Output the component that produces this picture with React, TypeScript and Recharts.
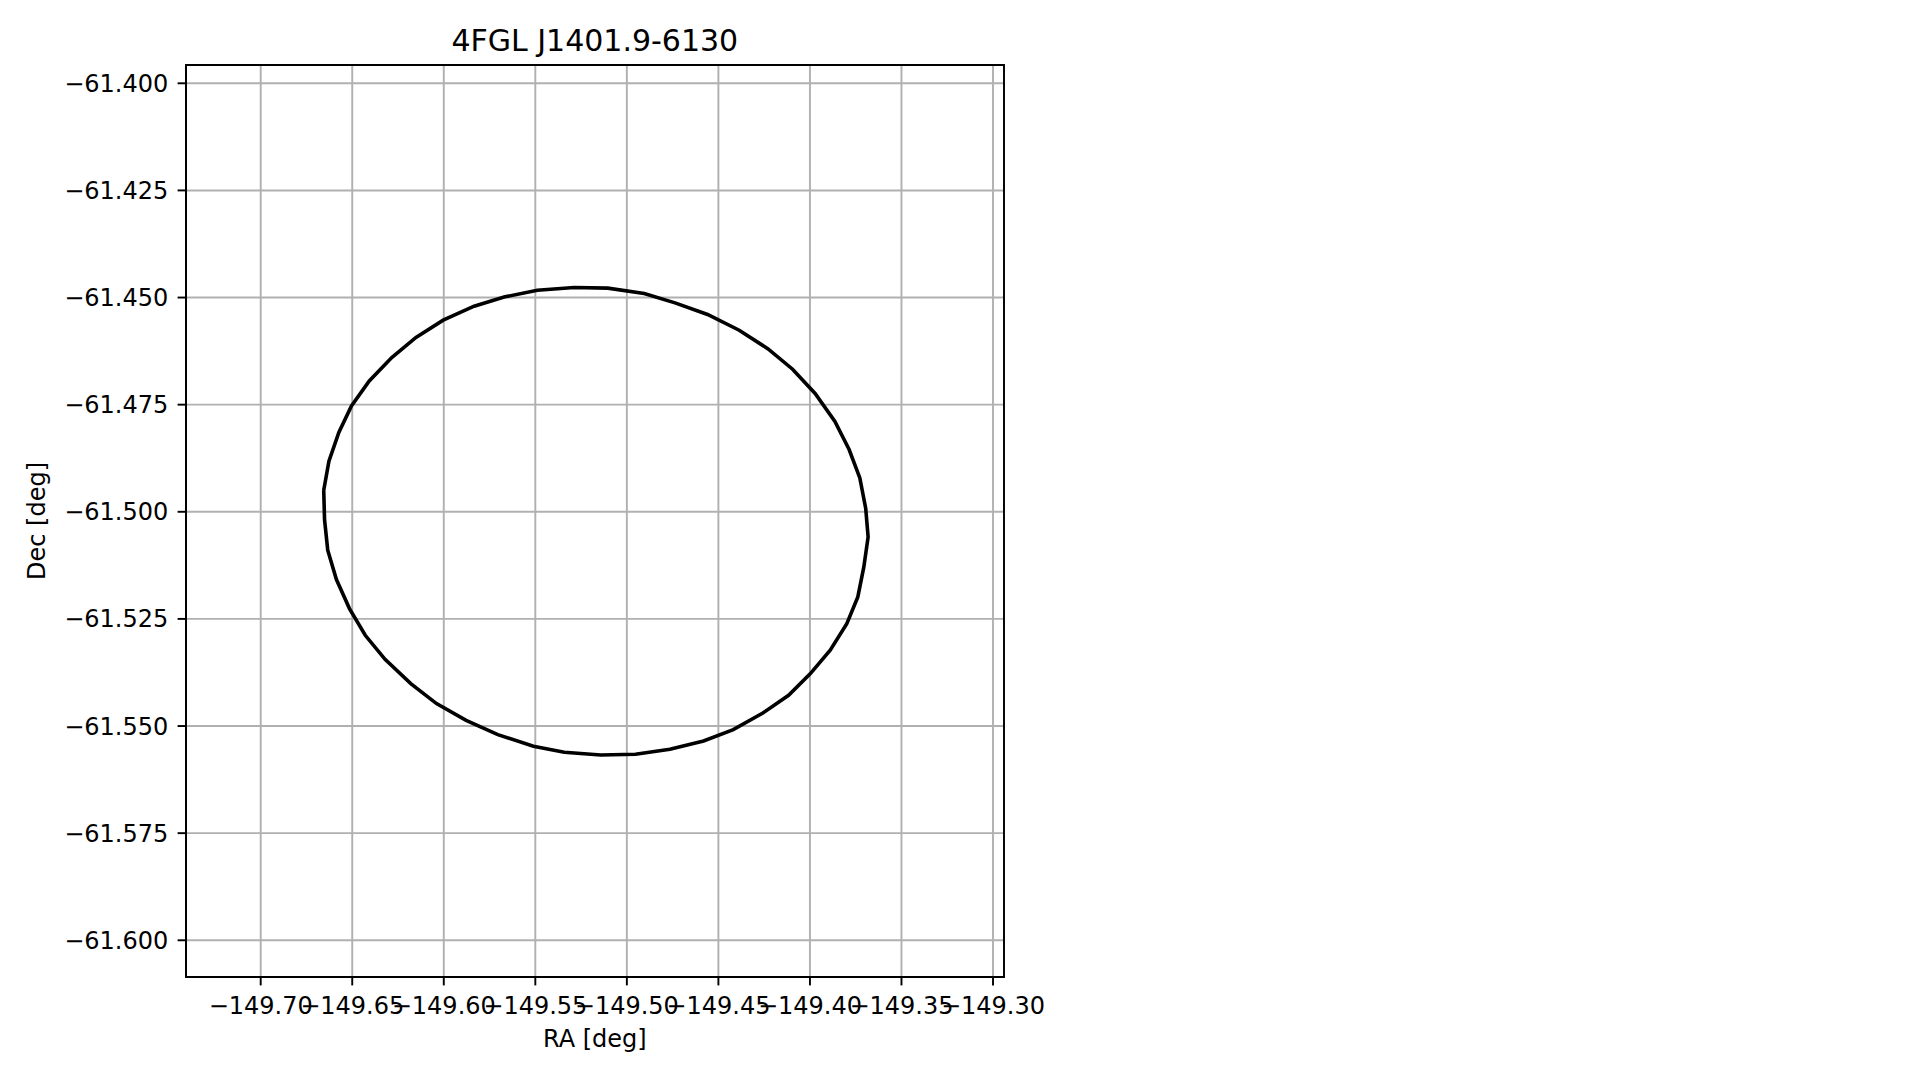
import React from 'react';
import { LineChart, Line, XAxis, YAxis, CartesianGrid, ReferenceArea } from 'recharts';

const raValues: number[] = [
  -149.66557, -149.66273, -149.65732, -149.65043, -149.6407, -149.62841, -149.61518, -149.60032,
  -149.58343, -149.5666, -149.54889, -149.52878, -149.51042, -149.49052, -149.47369, -149.45593,
  -149.43866, -149.42286, -149.40948, -149.39718, -149.38636, -149.3786, -149.37275, -149.36953,
  -149.36822, -149.37056, -149.37384, -149.37986, -149.38893, -149.39975, -149.41166, -149.42571,
  -149.44188, -149.45811, -149.47648, -149.49528, -149.5143, -149.53419, -149.55102, -149.57048,
  -149.5878, -149.60398, -149.61802, -149.63207, -149.64289, -149.65152, -149.65863, -149.66338,
  -149.66513, -149.66557,
];

const decValues: number[] = [
  -61.49497, -61.4882, -61.4815, -61.47529, -61.46945, -61.46399, -61.45932, -61.45528,
  -61.45201, -61.44984, -61.44828, -61.44765, -61.44781, -61.44905, -61.45124, -61.45395,
  -61.45762, -61.46198, -61.46672, -61.47239, -61.47893, -61.48547, -61.4921, -61.49924,
  -61.50587, -61.51287, -61.51988, -61.52609, -61.53232, -61.53776, -61.54283, -61.54696,
  -61.55083, -61.5535, -61.55543, -61.5566, -61.55677, -61.55613, -61.55473, -61.552,
  -61.54866, -61.54476, -61.5401, -61.53442, -61.52882, -61.52259, -61.51582, -61.50898,
  -61.50181, -61.49497,
];

const raTicks: number[] = [-149.7, -149.65, -149.6, -149.55, -149.5, -149.45, -149.4, -149.35, -149.3];
const decTicks: number[] = [-61.4, -61.425, -61.45, -61.475, -61.5, -61.525, -61.55, -61.575, -61.6];
const raDomain: number[] = [-149.7408, -149.294];
const decDomain: number[] = [-61.60857, -61.39573];

const titleText = '4FGL J1401.9-6130';
const xLabelText = 'RA [deg]';
const yLabelText = 'Dec [deg]';

const data = raValues.map((ra, i) => ({ ra, dec: decValues[i] }));

const FONT = 'DejaVu Sans';
const fmt = (d: number) => (v: number) => (v < 0 ? '\u2212' : '') + Math.abs(v).toFixed(d);

export default function App() {
  return (
    <div style={{ position: 'absolute', left: 0, top: 0, width: 1919, height: 1080, background: '#fff' }}>
      <LineChart
        width={1919}
        height={1080}
        data={data}
        margin={{ top: 65, right: 915, bottom: 0, left: 0 }}
      >
        <CartesianGrid stroke="#b0b0b0" strokeWidth={1.92} />
        <XAxis
          dataKey="ra"
          type="number"
          domain={raDomain}
          allowDataOverflow
          ticks={raTicks}
          interval={0}
          height={103}
          tickSize={8.4}
          tickMargin={11.9}
          tickFormatter={fmt(2)}
          axisLine={{ stroke: '#000', strokeWidth: 1.92 }}
          tickLine={{ stroke: '#000', strokeWidth: 1.92 }}
          tick={{ fill: '#000', fontSize: 24, fontFamily: FONT }}
        />
        <YAxis
          dataKey="dec"
          type="number"
          domain={decDomain}
          allowDataOverflow
          ticks={decTicks}
          interval={0}
          width={186}
          tickSize={8.4}
          tickMargin={9.3}
          tickFormatter={fmt(3)}
          axisLine={{ stroke: '#000', strokeWidth: 1.92 }}
          tickLine={{ stroke: '#000', strokeWidth: 1.92 }}
          tick={{ fill: '#000', fontSize: 24, fontFamily: FONT }}
        />
        <ReferenceArea
          x1={raDomain[0]}
          x2={raDomain[1]}
          y1={decDomain[0]}
          y2={decDomain[1]}
          fill="none"
          fillOpacity={0}
          stroke="#000"
          strokeWidth={1.92}
        />
        <Line
          dataKey="dec"
          type="linear"
          dot={false}
          activeDot={false}
          stroke="#000"
          strokeWidth={3.6}
          isAnimationActive={false}
        />
      </LineChart>
      <svg
        width={1919}
        height={1080}
        style={{ position: 'absolute', left: 0, top: 0, pointerEvents: 'none' }}
      >
        <text x={594.8} y={50.6} textAnchor="middle" fontFamily={FONT} fontSize={30} fill="#000">
          {titleText}
        </text>
        <text x={594.8} y={1047} textAnchor="middle" fontFamily={FONT} fontSize={24} fill="#000">
          {xLabelText}
        </text>
        <text
          x={45}
          y={521}
          transform="rotate(-90 45 521)"
          textAnchor="middle"
          fontFamily={FONT}
          fontSize={24}
          fill="#000"
        >
          {yLabelText}
        </text>
      </svg>
    </div>
  );
}
